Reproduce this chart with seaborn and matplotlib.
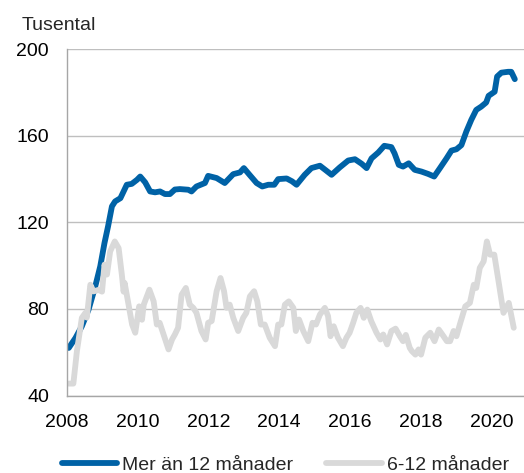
import matplotlib
matplotlib.use("Agg")
import matplotlib.pyplot as plt
import seaborn as sns
import pandas as pd

# ---- data ----
series_names = ["Mer än 12 månader", "6-12 månader"]
series_colors = ["#0062A6", "#D9D9D9"]

long_years = [2008.05, 2008.24, 2008.42, 2008.61, 2008.80, 2008.94, 2009.06, 2009.16, 2009.27, 2009.36,
              2009.51, 2009.60, 2009.69, 2009.83, 2009.98, 2010.07, 2010.21, 2010.35, 2010.49, 2010.63,
              2010.77, 2010.91, 2011.05, 2011.19, 2011.43, 2011.52, 2011.66, 2011.90, 2011.99, 2012.23,
              2012.46, 2012.70, 2012.89, 2013.00, 2013.16, 2013.36, 2013.52, 2013.69, 2013.86, 2013.97,
              2014.21, 2014.36, 2014.49, 2014.72, 2014.91, 2015.15, 2015.30, 2015.48, 2015.71, 2015.95,
              2016.14, 2016.33, 2016.47, 2016.61, 2016.80, 2016.97, 2017.17, 2017.26, 2017.38, 2017.50,
              2017.66, 2017.83, 2018.02, 2018.21, 2018.38, 2018.54, 2018.73, 2018.87, 2019.01, 2019.15,
              2019.29, 2019.43, 2019.57, 2019.71, 2019.85, 2019.92, 2020.09, 2020.16, 2020.28, 2020.47,
              2020.56, 2020.66]
long_values = [62.0, 66.6, 72.0, 79.7, 90.5, 99.7, 110.5, 118.1, 127.4, 129.7,
               131.2, 134.3, 137.4, 137.8, 139.7, 141.2, 138.5, 134.3, 133.9, 134.3,
               133.1, 133.1, 135.2, 135.4, 135.1, 134.3, 136.6, 138.2, 141.5, 140.5,
               138.2, 142.3, 143.1, 145.1, 142.0, 138.2, 136.6, 137.4, 137.4, 140.0,
               140.3, 139.0, 137.4, 142.0, 145.1, 146.2, 144.3, 142.0, 145.4, 148.6,
               149.2, 147.1, 145.1, 149.6, 152.3, 155.4, 154.8, 151.9, 146.6, 145.8,
               147.3, 144.3, 143.5, 142.4, 141.2, 145.0, 149.6, 153.2, 153.8, 155.7,
               162.0, 167.4, 172.0, 173.5, 175.4, 178.5, 180.4, 187.4, 189.2, 189.6,
               189.6, 186.2]

short_years = [2008.05, 2008.18, 2008.28, 2008.42, 2008.52, 2008.56, 2008.66, 2008.75, 2008.89, 2008.99,
               2009.06, 2009.13, 2009.22, 2009.35, 2009.46, 2009.55, 2009.60, 2009.63, 2009.74, 2009.84,
               2009.93, 2010.04, 2010.12, 2010.17, 2010.33, 2010.45, 2010.54, 2010.62, 2010.73, 2010.87,
               2010.97, 2011.05, 2011.14, 2011.24, 2011.36, 2011.47, 2011.57, 2011.66, 2011.80, 2011.92,
               2011.99, 2012.09, 2012.23, 2012.34, 2012.44, 2012.51, 2012.60, 2012.70, 2012.84, 2012.98,
               2013.07, 2013.17, 2013.29, 2013.38, 2013.48, 2013.59, 2013.73, 2013.88, 2013.97, 2014.06,
               2014.16, 2014.27, 2014.40, 2014.47, 2014.56, 2014.68, 2014.82, 2014.94, 2015.04, 2015.15,
               2015.29, 2015.38, 2015.45, 2015.54, 2015.66, 2015.80, 2015.90, 2015.99, 2016.09, 2016.18,
               2016.30, 2016.39, 2016.49, 2016.60, 2016.75, 2016.86, 2016.94, 2017.05, 2017.17, 2017.29,
               2017.41, 2017.50, 2017.58, 2017.69, 2017.75, 2017.85, 2017.94, 2018.01, 2018.13, 2018.27,
               2018.39, 2018.51, 2018.61, 2018.74, 2018.83, 2018.93, 2019.01, 2019.12, 2019.26, 2019.39,
               2019.50, 2019.57, 2019.67, 2019.78, 2019.87, 2019.96, 2020.08, 2020.20, 2020.34, 2020.49,
               2020.63]
short_values = [45.5, 45.5, 60.5, 75.9, 78.2, 76.0, 91.2, 88.1, 88.8, 88.0,
                100.5, 95.9, 106.6, 111.2, 108.1, 95.9, 88.0, 92.0, 82.0, 72.8,
                69.0, 81.2, 75.0, 82.0, 88.9, 83.5, 72.8, 73.6, 68.2, 61.3,
                65.9, 68.2, 71.3, 86.6, 89.7, 82.0, 80.5, 78.2, 69.8, 65.9,
                73.6, 74.4, 88.2, 94.3, 88.2, 80.5, 82.0, 75.9, 69.8, 75.9,
                78.2, 85.8, 88.2, 83.5, 72.8, 72.8, 66.7, 62.8, 72.8, 72.8,
                82.0, 83.5, 80.5, 69.8, 75.1, 69.8, 65.1, 73.6, 72.8, 77.4,
                80.5, 76.7, 67.4, 72.0, 66.7, 62.8, 66.7, 69.0, 73.6, 78.2,
                80.5, 75.9, 79.7, 74.4, 69.0, 65.9, 68.2, 63.6, 69.8, 70.9,
                67.4, 65.1, 68.0, 62.0, 60.5, 58.9, 61.3, 58.9, 66.7, 69.0,
                65.1, 70.5, 68.2, 65.1, 65.1, 69.8, 67.4, 73.6, 81.2, 82.8,
                91.2, 89.7, 99.0, 102.0, 111.2, 105.1, 105.1, 92.8, 78.2, 82.8,
                71.3]

y_ticks = [40, 80, 120, 160, 200]
x_ticks = [2008, 2010, 2012, 2014, 2016, 2018, 2020]
y_unit = "Tusental"

# ---- build table ----
df = pd.concat([
    pd.DataFrame({"year": long_years, "value": long_values, "serie": series_names[0]}),
    pd.DataFrame({"year": short_years, "value": short_values, "serie": series_names[1]}),
], ignore_index=True)

sns.set_theme(style="white")
plt.rcParams["font.family"] = ["Liberation Sans", "DejaVu Sans"]

W, H = 524, 473
fig = plt.figure(figsize=(W / 100, H / 100), dpi=100)
ax = fig.add_axes([67 / W, 1 - 395.5 / H, (W - 67) / W, (395.5 - 49.3) / H])

sns.lineplot(data=df, x="year", y="value", hue="serie", hue_order=series_names,
             palette=series_colors, estimator=None, linewidth=4.2, ax=ax,
             solid_capstyle="round", solid_joinstyle="round", legend=False)

ax.set_xlim(2008, 2020.92)
ax.set_ylim(40, 200)
ax.set_yticks(y_ticks)
ax.set_xticks(x_ticks)
ax.set_xlabel("")
ax.set_ylabel("")
ax.grid(axis="y", color="#BFBFBF", linewidth=1.0)
ax.grid(axis="x", visible=False)
ax.set_axisbelow(True)
for side in ["left", "bottom"]:
    ax.spines[side].set_color("#A6A6A6")
    ax.spines[side].set_linewidth(1.0)
ax.spines["right"].set_visible(False)
ax.spines["top"].set_visible(False)
ax.tick_params(axis="both", length=0, labelsize=14, colors="#000000")
ax.tick_params(axis="y", pad=13)
ax.tick_params(axis="x", pad=13)

fig.text(22 / W, 1 - 30 / H, y_unit, fontsize=14, va="baseline", ha="left")

handles = [plt.Line2D([], [], color=c, linewidth=4.2, solid_capstyle="round") for c in series_colors]
fig.legend(handles, series_names, loc="center left", bbox_to_anchor=(62 / W, 1 - 465 / H),
           ncol=2, frameon=False, fontsize=14, handlelength=2.85, handletextpad=0.25,
           columnspacing=1.7, borderpad=0, borderaxespad=0)

fig.savefig("out.png", dpi=100)
